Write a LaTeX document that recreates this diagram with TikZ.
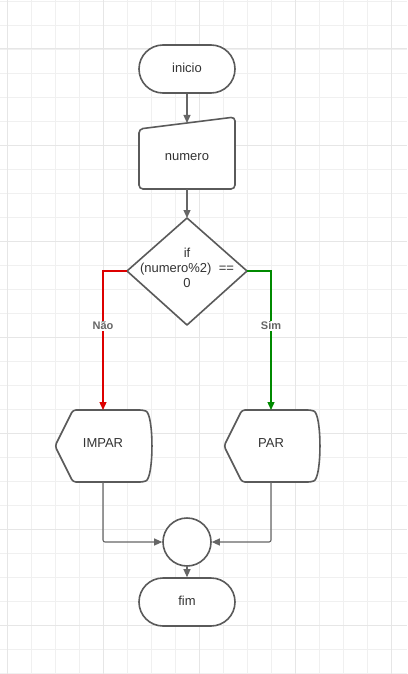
\documentclass[tikz,border=0pt]{standalone}
\usepackage{fontspec}
\setmainfont{Liberation Sans}
\usetikzlibrary{arrows.meta,calc}
\definecolor{shapeline}{HTML}{5A5A5A}
\definecolor{connline}{HTML}{666666}
\definecolor{txt}{HTML}{333333}
\definecolor{gridminor}{HTML}{F0F0F0}
\definecolor{gridmajor}{HTML}{E6E6E6}
\definecolor{nored}{HTML}{DD0000}
\definecolor{yesgreen}{HTML}{008A00}
\tikzset{
  minorgrid/.style={draw=gridminor,line width=0.9pt},
  majorgrid/.style={draw=gridmajor,line width=1pt},
  shapebox/.style={draw=shapeline,line width=1.6pt},
  terminal/.style={shapebox,rounded corners=24pt,minimum width=96pt,minimum height=48pt,inner sep=0pt},
  label/.style={text=txt,font=\fontsize{13}{16}\selectfont,inner sep=0pt,align=center},
  conn/.style={draw=connline,line width=1.1pt,-{Triangle[length=8pt,width=7pt]}},
  branchlbl/.style={fill=white,text=connline,font=\bfseries\fontsize{11}{13}\selectfont,inner sep=1pt},
  nobranch/.style={draw=nored,line width=1.3pt,-{Triangle[length=8pt,width=7pt]}},
  yesbranch/.style={draw=yesgreen,line width=1.3pt,-{Triangle[length=8pt,width=7pt]}}
}
\begin{document}
\begin{tikzpicture}[x=1pt,y=-1pt]
\useasboundingbox (0,0) rectangle (407,674);
\fill[white] (0,0) rectangle (407,674);
% grid
\foreach \x in {7,31,...,403} \draw[minorgrid] (\x,0) -- (\x,674);
\foreach \y in {1,25,...,673} \draw[minorgrid] (0,\y) -- (407,\y);
\foreach \x in {7,103,199,295,391} \draw[majorgrid] (\x,0) -- (\x,674);
\foreach \y in {49,145,241,337,433,529,625} \draw[majorgrid] (0,\y) -- (407,\y);

% inicio
\node[terminal,label,fill=white] (inicio) at (187,69) {\raisebox{1.5pt}{inicio}};

% numero (manual input)
\coordinate (numtop) at (187,123);
\coordinate (numbot) at (187,189);
\fill[white] (139,129) -- (235,117) -- (235,189) -- (139,189) -- cycle;
\draw[shapebox,rounded corners=4pt] (139,129) -- (235,117) -- (235,189) -- (139,189) -- cycle;
\node[label] (numero) at (187,157) {numero};

% decision
\coordinate (decT) at (187,218);
\coordinate (decR) at (247,271);
\coordinate (decB) at (187,325);
\coordinate (decL) at (127,271);
\fill[white] (decT) -- (decR) -- (decB) -- (decL) -- cycle;
\draw[shapebox,line join=round] (decT) -- (decR) -- (decB) -- (decL) -- cycle;
\node[label] (dec) at (187,268) {if\\[-1pt](numero\%2)\ \ ==\\[-1pt]0};

% IMPAR display
\coordinate (impartop) at (103,410);
\coordinate (imparbot) at (103,482);
\fill[white] (73,410) -- (143,410) .. controls (154,414) and (154,478) .. (143,482) -- (73,482) -- (55,446) -- cycle;
\draw[shapebox,rounded corners=3pt] (73,410) -- (143,410) .. controls (154,414) and (154,478) .. (143,482) -- (73,482) -- (55,446) -- cycle;
\node[label] (impar) at (103,443) {IMPAR};

% PAR display
\coordinate (partop) at (271,410);
\coordinate (parbot) at (271,482);
\fill[white] (242,410) -- (311,410) .. controls (322,414) and (322,478) .. (311,482) -- (242,482) -- (224,446) -- cycle;
\draw[shapebox,rounded corners=3pt] (242,410) -- (311,410) .. controls (322,414) and (322,478) .. (311,482) -- (242,482) -- (224,446) -- cycle;
\node[label] (par) at (271,443) {PAR};

% connector circle
\node[shapebox,circle,fill=white,minimum size=48pt,inner sep=0pt] (join) at (187,542) {};

% fim
\node[terminal,label,fill=white] (fim) at (187,602) {\raisebox{1.5pt}{fim}};

% connectors
\draw[conn] (inicio.south) -- (numtop);
\draw[conn] (numbot) -- (decT);
\draw[nobranch] (decL) -| node[branchlbl,pos=0.698] {Não} (impartop);
\draw[yesbranch] (decR) -| node[branchlbl,pos=0.698] {Sim} (partop);
\draw[conn,rounded corners=2pt] (imparbot) |- (join.west);
\draw[conn,rounded corners=2pt] (parbot) |- (join.east);
\draw[conn] (join.south) -- (fim.north);
\end{tikzpicture}
\end{document}
